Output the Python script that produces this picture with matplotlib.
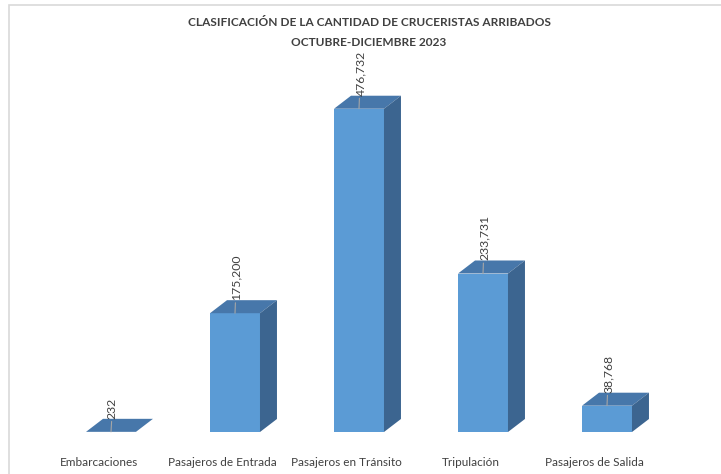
import matplotlib.pyplot as plt
from matplotlib.patches import Polygon, Rectangle

categories = ["Embarcaciones", "Pasajeros de Entrada", "Pasajeros en Tránsito",
              "Tripulación", "Pasajeros de Salida"]
values = [232, 175200, 476732, 233731, 38768]
value_labels = ["232", "175,200", "476,732", "233,731", "38,768"]

FRONT = "#5B9BD5"
TOP = "#4777AA"
SIDE = "#3C6590"
TEXT = "#404040"

plt.rcParams['font.family'] = ['Lato', 'DejaVu Sans']

fig = plt.figure(figsize=(7.21, 4.74), dpi=100)
# axes placed so that one category = 124 px, 0 value at y=432 px from top
ax = fig.add_axes([24.2 / 721, 42 / 474, 669.6 / 721, 352.6 / 474])
ax.set_xlim(-0.7, 4.7)
ax.set_ylim(0, 520000)

width = 0.403   # front face width (data units)
dx = 0.137      # depth offset in x
dy = 19200      # depth offset in value units

for i, v in enumerate(values):
    x0 = i - width / 2
    x1 = i + width / 2
    # front face
    ax.add_patch(Rectangle((x0, 0), width, v, facecolor=FRONT, edgecolor="none", zorder=2))
    # top face
    ax.add_patch(Polygon([(x0, v), (x1, v), (x1 + dx, v + dy), (x0 + dx, v + dy)],
                         closed=True, facecolor=TOP, edgecolor="none", zorder=2))
    # side face
    if v > 1000:
        ax.add_patch(Polygon([(x1, 0), (x1 + dx, dy), (x1 + dx, v + dy), (x1, v)],
                             closed=True, facecolor=SIDE, edgecolor="none", zorder=2))
    # value label with leader line
    ax.annotate(value_labels[i], xy=(i, v), xytext=(1, 9.5), textcoords="offset points",
                rotation=90, ha="center", va="bottom", fontsize=8.8, color=TEXT,
                arrowprops=dict(arrowstyle="-", color="#A6A6A6", lw=0.8,
                                shrinkA=0, shrinkB=0), zorder=3)

ax.set_xticks([i - 0.1 for i in range(len(categories))])
ax.set_xticklabels(categories, fontsize=8.5, color=TEXT)
ax.tick_params(axis="x", length=0, pad=18)
ax.set_yticks([])
for s in ax.spines.values():
    s.set_visible(False)

fig.text(369 / 721, 1 - 23 / 474, "CLASIFICACIÓN DE LA CANTIDAD DE CRUCERISTAS ARRIBADOS",
         ha="center", va="center", fontsize=8.6, fontweight="bold", color=TEXT)
fig.text(369 / 721, 1 - 42 / 474, "OCTUBRE-DICIEMBRE 2023",
         ha="center", va="center", fontsize=8.6, fontweight="bold", color=TEXT)

# chart frame
fig.patches.append(Rectangle((8.5 / 721, -0.1), 1.2, 1.1 - 5.5 / 474,
                             transform=fig.transFigure, fill=False,
                             edgecolor="#D9D9D9", lw=1.2))

fig.savefig("out.png", dpi=100)
